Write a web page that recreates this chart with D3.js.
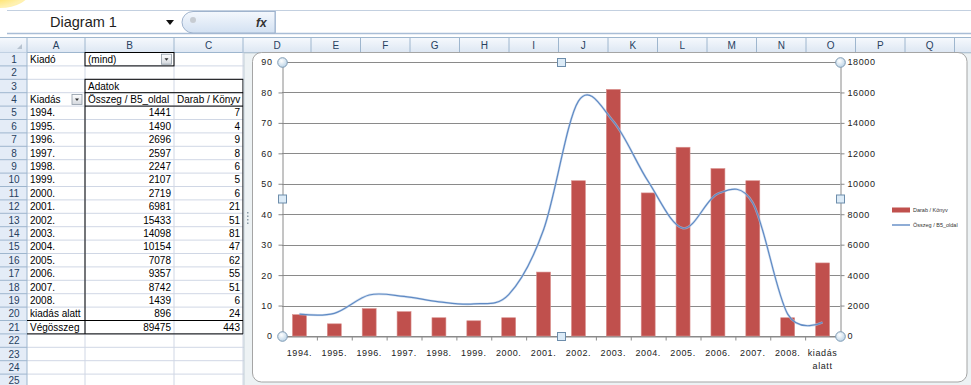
<!DOCTYPE html>
<html><head><meta charset="utf-8">
<script src="https://cdn.jsdelivr.net/npm/d3@7"></script>
<style>
body{margin:0;background:#fff;overflow:hidden}
svg{display:block}
text{font-family:"Liberation Sans",Arial,sans-serif}
</style>
</head><body>
<svg id="c" width="971" height="385"></svg>
<script>
// ---------- data ----------
const categories = ["1994.","1995.","1996.","1997.","1998.","1999.","2000.","2001.","2002.","2003.","2004.","2005.","2006.","2007.","2008.","kiadás alatt"];
const osszeg = [1441,1490,2696,2597,2247,2107,2719,6981,15433,14098,10154,7078,9357,8742,1439,896];
const darab  = [7,4,9,8,6,5,6,21,51,81,47,62,55,51,6,24];
const osszegTotal = 89475;
const darabTotal = 443;
const leftTicks = [0,10,20,30,40,50,60,70,80,90];
const rightTicks = [0,2000,4000,6000,8000,10000,12000,14000,16000,18000];
const seriesNames = ["Darab / Könyv","Összeg / B5_oldal"];
const columnLetters = ["A","B","C","D","E","F","G","H","I","J","K","L","M","N","O","P","Q"];
const nameBoxText = "Diagram 1";

// ---------- layout ----------
const W = 971, H = 385;
const colEdges = [27,85,174,243,311,360.5,410,459.5,509,558.5,608,657.5,707,756.5,806,855.5,905,954.5,1004];
const rowTop0 = 52.5, rowH = 13.4, nRows = 25;
const rowTop = r => rowTop0 + (r-1)*rowH;

const svg = d3.select("#c");
const defs = svg.append("defs");

// gradients
const glow = defs.append("radialGradient").attr("id","glow").attr("cx","0.3").attr("cy","0.2").attr("r","0.8");
glow.append("stop").attr("offset","0").attr("stop-color","#ffe04a");
glow.append("stop").attr("offset","0.75").attr("stop-color","#ffe67a");
glow.append("stop").attr("offset","1").attr("stop-color","#fff1b0");

const hdrG = defs.append("linearGradient").attr("id","hdr").attr("x1",0).attr("y1",0).attr("x2",0).attr("y2",1);
hdrG.append("stop").attr("offset","0").attr("stop-color","#f6f9fd");
hdrG.append("stop").attr("offset","1").attr("stop-color","#dde7f3");

const fxG = defs.append("linearGradient").attr("id","fxg").attr("x1",0).attr("y1",0).attr("x2",0).attr("y2",1);
fxG.append("stop").attr("offset","0").attr("stop-color","#f4f8fd");
fxG.append("stop").attr("offset","1").attr("stop-color","#d3e1f2");

const hG = defs.append("radialGradient").attr("id","hnd").attr("cx","0.4").attr("cy","0.35").attr("r","0.7");
hG.append("stop").attr("offset","0").attr("stop-color","#ffffff");
hG.append("stop").attr("offset","1").attr("stop-color","#b9d2e6");

const btnG = defs.append("linearGradient").attr("id","btn").attr("x1",0).attr("y1",0).attr("x2",0).attr("y2",1);
btnG.append("stop").attr("offset","0").attr("stop-color","#ffffff");
btnG.append("stop").attr("offset","1").attr("stop-color","#d4d8de");

defs.append("clipPath").attr("id","clipC").append("rect")
  .attr("x",174).attr("y",0).attr("width",69).attr("height",H);

// ---------- top bar ----------
svg.append("ellipse").attr("cx",0).attr("cy",-9).attr("rx",30).attr("ry",17).attr("fill","url(#glow)");
svg.append("line").attr("x1",7).attr("x2",W).attr("y1",10.5).attr("y2",10.5).attr("stroke","#c3d0e0");
svg.append("line").attr("x1",7).attr("x2",W).attr("y1",33.5).attr("y2",33.5).attr("stroke","#a9bdd6").attr("stroke-width",1.5);
svg.append("text").attr("x",50).attr("y",27).attr("font-size",14.5).attr("fill","#1e1e1e").text(nameBoxText);
svg.append("path").attr("d","M166,20 L174,20 L170,25 Z").attr("fill","#111");
svg.append("path").attr("d","M193,11.5 L275,11.5 L275,33 L193,33 A11,10.75 0 0 1 193,11.5 Z")
  .attr("fill","url(#fxg)").attr("stroke","#9fb3cd");
svg.append("circle").attr("cx",193).attr("cy",20).attr("r",3).attr("fill","#c7ccd2");
svg.append("text").attr("x",256).attr("y",27).attr("font-size",12).attr("font-style","italic").attr("font-weight","bold")
  .attr("font-family","'DejaVu Serif',serif").attr("fill","#333").text("fx");
svg.append("line").attr("x1",275.5).attr("x2",275.5).attr("y1",11).attr("y2",33).attr("stroke","#a9bdd6");

// ---------- column headers ----------
const hdrTop = 37.5, hdrBot = 52.5;
svg.append("rect").attr("x",0).attr("y",hdrTop).attr("width",W).attr("height",hdrBot-hdrTop).attr("fill","url(#hdr)");
svg.append("line").attr("x1",0).attr("x2",W).attr("y1",hdrTop).attr("y2",hdrTop).attr("stroke","#9eb6ce");
svg.append("line").attr("x1",0).attr("x2",W).attr("y1",hdrBot).attr("y2",hdrBot).attr("stroke","#9eb6ce");
svg.append("path").attr("d",`M22,49 L22,44 L17,49 Z`).attr("fill","#b7c3d0");
colEdges.forEach(x=>{
  svg.append("line").attr("x1",x).attr("x2",x).attr("y1",hdrTop).attr("y2",hdrBot).attr("stroke","#9eb6ce");
});
columnLetters.forEach((l,i)=>{
  svg.append("text").attr("x",(colEdges[i]+colEdges[i+1])/2).attr("y",48.5).attr("text-anchor","middle")
    .attr("font-size",10).attr("fill","#27415f").text(l);
});

// ---------- row headers & grid ----------
svg.append("rect").attr("x",0).attr("y",hdrBot).attr("width",27).attr("height",H-hdrBot).attr("fill","#e4ecf7");
for(let r=1;r<=nRows;r++){
  const y = rowTop(r);
  svg.append("line").attr("x1",27).attr("x2",W).attr("y1",y+rowH).attr("y2",y+rowH).attr("stroke","#d0d7e5");
  svg.append("line").attr("x1",0).attr("x2",27).attr("y1",y+rowH).attr("y2",y+rowH).attr("stroke","#9eb6ce");
  svg.append("text").attr("x",14).attr("y",y+10.2).attr("text-anchor","middle").attr("font-size",10)
    .attr("fill","#27415f").text(r);
}
colEdges.slice(1).forEach(x=>{
  svg.append("line").attr("x1",x).attr("x2",x).attr("y1",hdrBot).attr("y2",H).attr("stroke","#d0d7e5");
});
svg.append("line").attr("x1",27).attr("x2",27).attr("y1",hdrBot).attr("y2",H).attr("stroke","#9eb6ce");

// ---------- pivot table ----------
const cellText = (x,r,t,anchor="start",clip=null)=>{
  const el = svg.append("text").attr("x",x).attr("y",rowTop(r)+10.2).attr("font-size",10)
    .attr("fill","#000").attr("text-anchor",anchor).text(t);
  if(clip) el.attr("clip-path",clip);
};
cellText(30,1,"Kiadó");
cellText(88,1,"(mind)");
cellText(88,3,"Adatok");
cellText(30,4,"Kiadás");
cellText(88,4,seriesNames[1]);
cellText(177,4,seriesNames[0],"start","url(#clipC)");
categories.forEach((c,i)=>{
  const r = 5+i;
  cellText(30,r,c);
  cellText(171,r,osszeg[i],"end");
  cellText(240,r,darab[i],"end");
});
cellText(30,21,"Végösszeg");
cellText(171,21,osszegTotal,"end");
cellText(240,21,darabTotal,"end");

// dropdown buttons
const dropBtn = (x,y)=>{
  svg.append("rect").attr("x",x).attr("y",y).attr("width",10).attr("height",10).attr("fill","url(#btn)").attr("stroke","#8e99a5").attr("stroke-width",0.8);
  svg.append("path").attr("d",`M${x+3},${y+4} L${x+7},${y+4} L${x+5},${y+6.5} Z`).attr("fill","#333");
};
dropBtn(161.5,rowTop(1)+1.7);
dropBtn(72,rowTop(4)+1.7);

// borders
const blk = (x1,y1,x2,y2)=>svg.append("line").attr("x1",x1).attr("y1",y1).attr("x2",x2).attr("y2",y2).attr("stroke","#000").attr("stroke-width",1);
svg.append("rect").attr("x",85).attr("y",rowTop(1)).attr("width",89).attr("height",rowH).attr("fill","none").attr("stroke","#000");
svg.append("rect").attr("x",85).attr("y",rowTop(3)).attr("width",158).attr("height",rowH).attr("fill","none").attr("stroke","#000");
blk(85,rowTop(4),85,rowTop(22));
blk(243,rowTop(4),243,rowTop(22));
blk(85,rowTop(5),243,rowTop(5));
blk(27,rowTop(21),243,rowTop(21));
blk(27,rowTop(22),243,rowTop(22));

// ---------- chart frame ----------
svg.append("rect").attr("x",244).attr("y",hdrBot+0.5).attr("width",W-244+5).attr("height",H).attr("fill","#edf2f4").attr("stroke","#c3d0d8");
svg.append("rect").attr("x",252.5).attr("y",52.5).attr("width",714.5).attr("height",329.5).attr("rx",9)
  .attr("fill","#fff").attr("stroke","#a5a5a5");
[212,215.5,219,222.5].forEach(y=>svg.append("rect").attr("x",247).attr("y",y).attr("width",1.5).attr("height",1.5).attr("fill","#8a9aa6"));

// ---------- chart ----------
const pl = 282, pr = 840, pt = 62, pb = 336;
const x = d3.scaleBand().domain(categories).range([pl,pr]).paddingInner(0.6).paddingOuter(0.3);
const xEdge = d3.scaleLinear().domain([0,categories.length]).range([pl,pr]);
const yL = d3.scaleLinear().domain([0,90]).range([pb,pt]);
const yR = d3.scaleLinear().domain([0,18000]).range([pb,pt]);
const ch = svg.append("g");
const gridC = "#8a8a8a";

// gridlines
ch.append("g").selectAll("line").data(leftTicks).join("line")
  .attr("x1",pl).attr("x2",pr).attr("y1",d=>Math.round(yL(d))+0.5).attr("y2",d=>Math.round(yL(d))+0.5)
  .attr("stroke",gridC).attr("stroke-width",1);

// left axis
const axL = ch.append("g").attr("transform",`translate(${pl+0.5},0)`)
  .call(d3.axisLeft(yL).tickValues(leftTicks).tickSize(4).tickSizeOuter(0).tickPadding(6));
// right axis
const axR = ch.append("g").attr("transform",`translate(${pr+0.5},0)`)
  .call(d3.axisRight(yR).tickValues(rightTicks).tickSize(4).tickSizeOuter(0).tickPadding(3).tickFormat(d3.format("d")));
// bottom axis ticks
const axB = ch.append("g").attr("transform",`translate(0,${pb+0.5})`)
  .call(d3.axisBottom(xEdge).tickValues(d3.range(categories.length+1)).tickSize(4).tickSizeOuter(0).tickFormat(""));
[axL,axR,axB].forEach(a=>{
  a.selectAll("path,line").attr("stroke",gridC);
  a.selectAll("text").attr("font-size",9).attr("fill","#222").attr("letter-spacing",0.6)
    .attr("font-family","'Liberation Sans',Arial,sans-serif");
});

// category labels
const lab = ch.append("g").selectAll("text").data(categories).join("text")
  .attr("x",d=>x(d)+x.bandwidth()/2).attr("y",356).attr("text-anchor","middle")
  .attr("font-size",9).attr("fill","#222").attr("letter-spacing",0.6);
lab.each(function(d){
  const parts = d.split(" ");
  const t = d3.select(this);
  parts.forEach((p,i)=>t.append("tspan").attr("x",x(d)+x.bandwidth()/2).attr("dy",i===0?0:12.5).text(p));
});

// bars
ch.append("g").selectAll("rect").data(darab).join("rect")
  .attr("x",(d,i)=>x(categories[i])).attr("width",x.bandwidth())
  .attr("y",d=>yL(d)).attr("height",d=>yL(0)-yL(d))
  .attr("fill","#c0504d").attr("stroke","#d9908e").attr("stroke-width",0.6);

// smoothed line
const lineColor = "#5f8ac4";
const lineGen = d3.line().x((d,i)=>x(categories[i])+x.bandwidth()/2).y(d=>yR(d)).curve(d3.curveCatmullRom.alpha(0));
ch.append("path").datum(osszeg).attr("d",lineGen).attr("fill","none").attr("stroke","#b8cbe6").attr("stroke-width",2.4).attr("opacity",0.6);
ch.append("path").datum(osszeg).attr("d",lineGen).attr("fill","none").attr("stroke",lineColor).attr("stroke-width",1.2);

// legend
const lg = ch.append("g");
lg.append("rect").attr("x",892).attr("y",207.5).attr("width",18).attr("height",5).attr("fill","#c0504d");
lg.append("text").attr("x",913).attr("y",212).attr("font-size",5.5).attr("fill","#333").text(seriesNames[0]);
lg.append("line").attr("x1",892).attr("x2",910).attr("y1",225).attr("y2",225).attr("stroke",lineColor).attr("stroke-width",1.4);
lg.append("text").attr("x",913).attr("y",227).attr("font-size",5.5).attr("fill","#333").text(seriesNames[1]);

// selection handles
const hx = [pl+0.5,(pl+pr)/2+0.5,pr+0.5], hy = [pt+0.5,(pt+pb)/2,pb+0.5];
[[0,0],[2,0],[0,2],[2,2]].forEach(([i,j])=>{
  ch.append("circle").attr("cx",hx[i]).attr("cy",hy[j]).attr("r",4.8).attr("fill","url(#hnd)").attr("stroke","#7f9bb4");
});
[[1,0],[1,2],[0,1],[2,1]].forEach(([i,j])=>{
  ch.append("rect").attr("x",hx[i]-4).attr("y",hy[j]-4).attr("width",8).attr("height",8)
    .attr("fill","#dcebf7").attr("stroke","#6d8dab");
});
</script>
</body></html>
